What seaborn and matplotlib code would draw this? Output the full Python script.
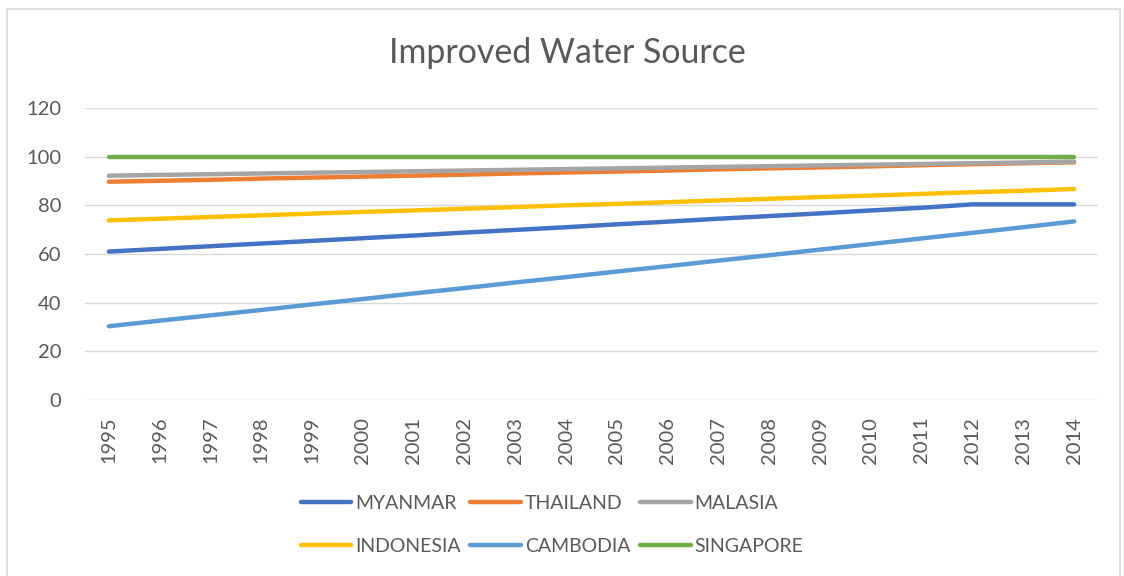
import matplotlib
matplotlib.use("Agg")
import matplotlib.pyplot as plt
import pandas as pd
import seaborn as sns
from matplotlib.patches import Rectangle

years = list(range(1995, 2015))
countries = ["MYANMAR", "THAILAND", "MALASIA", "INDONESIA", "CAMBODIA", "SINGAPORE"]

myanmar = [61.0, 62.1, 63.2, 64.3, 65.4, 66.5, 67.6, 68.8, 69.9, 71.0,
           72.2, 73.3, 74.5, 75.6, 76.7, 77.9, 79.0, 80.4, 80.4, 80.4]
thailand = [89.7, 90.1, 90.5, 91.0, 91.4, 91.8, 92.2, 92.6, 93.1, 93.5,
            93.9, 94.3, 94.8, 95.2, 95.6, 96.0, 96.5, 96.9, 97.3, 97.7]
malasia = [92.2, 92.5, 92.8, 93.1, 93.4, 93.7, 94.0, 94.3, 94.6, 94.9,
           95.2, 95.5, 95.8, 96.1, 96.4, 96.7, 97.0, 97.3, 97.6, 98.0]
indonesia = [73.8, 74.5, 75.2, 75.9, 76.6, 77.3, 77.9, 78.6, 79.3, 80.0,
             80.6, 81.3, 82.0, 82.7, 83.4, 84.0, 84.7, 85.4, 86.0, 86.7]
cambodia = [30.3, 32.6, 34.8, 37.0, 39.3, 41.5, 43.8, 46.0, 48.3, 50.5,
            52.8, 55.0, 57.3, 59.5, 61.8, 64.1, 66.4, 68.7, 71.0, 73.4]
singapore = [100.0] * 20

palette = ["#4472C4", "#ED7D31", "#A5A5A5", "#FFC000", "#5B9BD5", "#70AD47"]
text_color = "#595959"
grid_color = "#D9D9D9"

rows = []
for name, vals in zip(countries, [myanmar, thailand, malasia, indonesia, cambodia, singapore]):
    for i, v in enumerate(vals):
        rows.append({"idx": i, "year": str(years[i]), "country": name, "value": v})
df = pd.DataFrame(rows)

sns.set_style("white")
plt.rcParams["font.family"] = ["Lato", "DejaVu Sans"]

fig = plt.figure(figsize=(11.24, 5.76), dpi=100)
ax = fig.add_axes([85 / 1124, 1 - 400 / 576, 1013 / 1124, 292 / 576])

sns.lineplot(data=df, x="idx", y="value", hue="country", hue_order=countries,
             palette=palette, linewidth=3.2, ax=ax, legend=False,
             solid_capstyle="round", zorder=3)

ax.set_xlim(-0.47, len(years) - 1 + 0.47)
ax.set_ylim(0, 120)
ax.set_yticks(range(0, 121, 20))
ax.set_xticks(range(len(years)))
ax.set_xticklabels([str(y) for y in years], rotation=90)
ax.tick_params(axis="both", length=0, labelsize=14.5, colors=text_color)
ax.tick_params(axis="y", pad=17)
ax.tick_params(axis="x", pad=12)
ax.grid(axis="y", color=grid_color, linewidth=1.0, zorder=0)
for s in ax.spines.values():
    s.set_visible(False)
ax.set_xlabel("")
ax.set_ylabel("")

fig.text(567 / 1124, 1 - 53 / 576, "Improved Water Source", ha="center", va="center",
         fontsize=24.4, color=text_color)

# legend in row-major order like the reference
handles = [plt.Line2D([0], [0], color=c, linewidth=3.2, solid_capstyle="round") for c in palette]
order = [0, 3, 1, 4, 2, 5]
leg = fig.legend([handles[i] for i in order], [countries[i] for i in order],
                 loc="center", bbox_to_anchor=(552 / 1124, 1 - 525 / 576), ncol=3,
                 frameon=False, fontsize=14, handlelength=2.6, handletextpad=0.2,
                 columnspacing=0.5, labelspacing=1.35, labelcolor=text_color)

fig.patches.append(Rectangle((7 / 1124, -0.01), 1113 / 1124, 1 - 9 / 576 + 0.01,
                             transform=fig.transFigure, fill=False,
                             edgecolor=grid_color, linewidth=1.2))

fig.savefig("out.png", dpi=100)
